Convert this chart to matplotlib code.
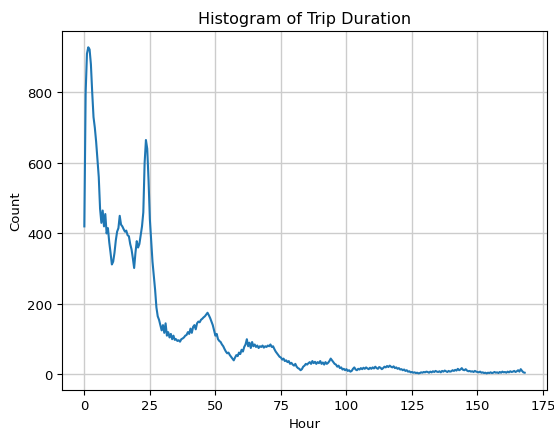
import numpy as np
import matplotlib
matplotlib.use('Agg')
import matplotlib.pyplot as plt

# half-hour bins, 0 .. 168 h
hours = np.arange(0, 168.5, 0.5)
counts = [
    420, 800, 910, 928, 922, 880, 800, 730, 700, 660,   # 0-5
    610, 560, 470, 430, 465, 420, 455, 400, 415, 375,   # 5-10
    345, 312, 320, 345, 380, 405, 415, 450, 425, 420,   # 10-15
    412, 405, 408, 395, 392, 370, 355, 330, 302, 345,   # 15-20
    378, 360, 370, 395, 420, 460, 600, 665, 640, 550,   # 20-25
    440, 380, 320, 280, 240, 190, 165, 155, 140, 125,   # 25-30
    140, 118, 145, 110, 120, 105, 115, 100, 110, 98,    # 30-35
    100, 95, 97, 93, 100, 102, 105, 110, 112, 120,      # 35-40
    115, 130, 118, 135, 140, 128, 145, 150, 148, 155,   # 40-45
    158, 162, 165, 170, 175, 168, 160, 150, 140, 125,   # 45-50
    110, 115, 100, 95, 92, 85, 80, 72, 65, 60,          # 50-55
    62, 55, 50, 45, 40, 48, 55, 52, 62, 58,             # 55-60
    70, 65, 78, 85, 100, 80, 90, 75, 92, 80,            # 60-65
    85, 78, 82, 75, 80, 78, 82, 76, 80, 78,             # 65-70
    82, 80, 85, 78, 80, 72, 65, 60, 55, 50,             # 70-75
    48, 42, 45, 38, 40, 35, 38, 30, 33, 28,             # 75-80
    25, 30, 22, 18, 16, 12, 15, 22, 25, 30,             # 80-85
    28, 32, 35, 30, 38, 32, 36, 30, 35, 32,             # 85-90
    38, 30, 34, 28, 35, 30, 33, 38, 45, 40,             # 90-95
    35, 30, 28, 22, 25, 18, 20, 14, 16, 12,             # 95-100
    15, 10, 12, 8, 10, 16, 20, 14, 12, 16,              # 100-105
    14, 18, 15, 19, 16, 20, 17, 15, 19, 16,             # 105-110
    20, 17, 22, 18, 16, 21, 19, 15, 18, 22,             # 110-115
    20, 24, 21, 25, 22, 20, 23, 18, 20, 16,             # 115-120
    18, 14, 15, 12, 14, 10, 12, 8, 9, 6,                # 120-125
    7, 5, 6, 4, 5, 3, 4, 6, 5, 7,                       # 125-130
    6, 8, 7, 5, 8, 6, 9, 7, 10, 8,                      # 130-135
    7, 9, 6, 10, 8, 11, 9, 7, 10, 8,                    # 135-140
    9, 12, 10, 13, 11, 16, 12, 14, 18, 13,              # 140-145
    12, 15, 11, 9, 10, 8, 9, 7, 10, 8,                  # 145-150
    7, 6, 8, 5, 6, 4, 5, 3, 5, 4,                       # 150-155
    6, 4, 5, 7, 5, 6, 4, 7, 5, 8,                       # 155-160
    6, 7, 5, 8, 6, 9, 7, 8, 10, 7,                      # 160-165
    9, 12, 8, 15, 10, 6, 5,                             # 165-168
]

fig = plt.figure(figsize=(5.54, 4.31), dpi=100)
ax = fig.add_subplot(111)
ax.plot(hours, counts, color='#1f77b4', linewidth=1.5)
ax.set_title('Histogram of Trip Duration', fontsize=11.5)
ax.set_xlabel('Hour', fontsize=9.5, labelpad=3)
ax.set_ylabel('Count', fontsize=9.5)
ax.set_xticks([0, 25, 50, 75, 100, 125, 150, 175])
ax.set_yticks([0, 200, 400, 600, 800])
ax.tick_params(labelsize=9.5)
ax.grid(True, color='#cccccc', linewidth=1.0)
fig.subplots_adjust(left=0.1125, right=0.9868, top=0.9258, bottom=0.0935)
fig.savefig('out.png', dpi=100)
